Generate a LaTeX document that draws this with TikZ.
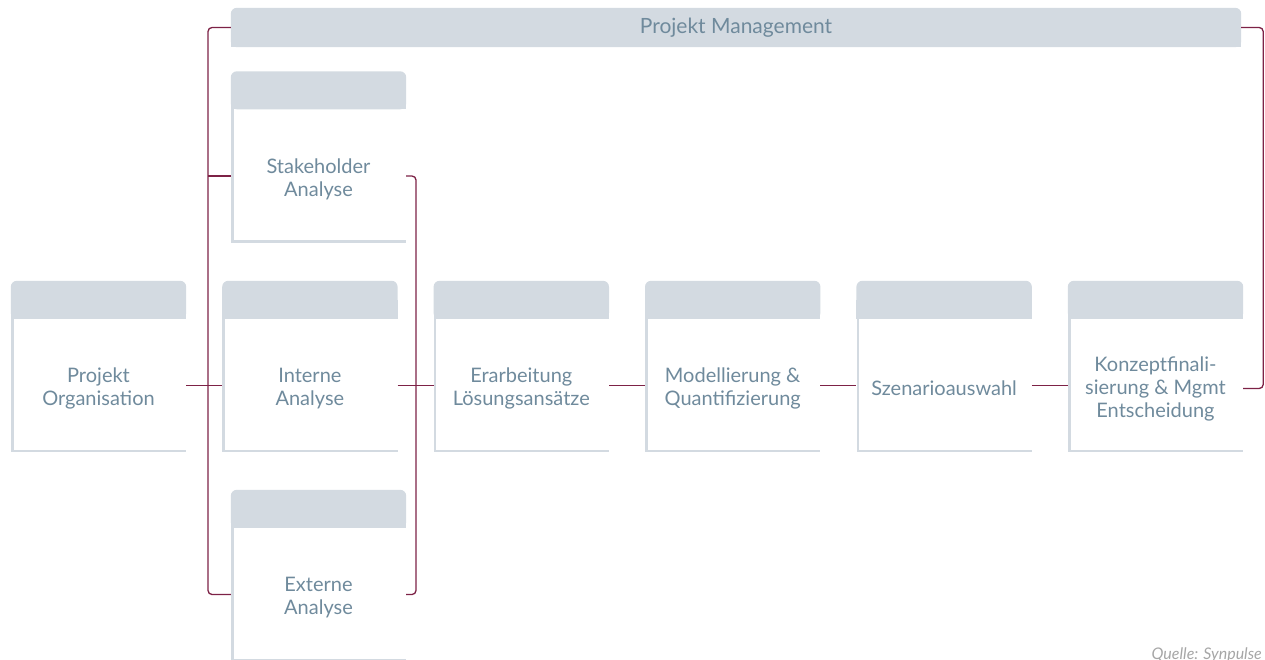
\documentclass[tikz,border=0pt]{standalone}
\usepackage{fontspec}
\setmainfont{Lato}
\usepackage{tikz}
\usetikzlibrary{positioning, calc, backgrounds}
\definecolor{headgray}{HTML}{D3DAE1}
\definecolor{textblue}{HTML}{6F8A9C}
\definecolor{linered}{HTML}{7D2246}
\tikzset{
    cardbody/.style={minimum width=175pt, minimum height=133pt, inner sep=0pt},
    cardtext/.style={inner sep=0pt, align=center, text=textblue,
        font=\fontsize{20}{23}\selectfont},
    cardedge/.style={draw=headgray, line width=2.5pt},
    link/.style={draw=linered, line width=1.3pt, rounded corners=4pt},
}
\newcommand{\card}[3]{%
    \node[cardbody,#2] (#1) {};
    \node[cardtext] (#1-text) at ([yshift=-3pt]#1.center) {#3};
    \begin{scope}[on background layer]
        \fill[headgray, rounded corners=6pt] ($(#1.north west)+(0,-38)$) rectangle (#1.north east);
        \fill[headgray] (#1.north west) rectangle ($(#1.north east)+(0,-19)$);
        \draw[cardedge] ($(#1.north west)+(1.5,0)$) -- ($(#1.south west)+(1.5,-1)$) -- ($(#1.south east)+(0,-1)$);
    \end{scope}
}

\begin{document}
\begin{tikzpicture}[x=1pt, y=-1pt]
\useasboundingbox (0,0) rectangle (1265,659);
% top bar
\node[minimum width=1010pt, minimum height=39pt, inner sep=0pt, text=textblue,
    font=\fontsize{21}{24}\selectfont] (pm) at (736,27.5) {Projekt Management};
\begin{scope}[on background layer]
    \fill[headgray, rounded corners=6pt] (pm.south west) rectangle (pm.north east);
    \fill[headgray] (pm.south west) rectangle ($(pm.east)+(0,-1)$);
\end{scope}
% cards
\card{org}{at={(98.5,385.5)}}{Projekt\\Organisation}
\card{intern}{right=36pt of org}{Interne\\Analyse}
\card{erarb}{right=36pt of intern}{Erarbeitung\\Lösungsansätze}
\card{model}{right=36pt of erarb}{Modellierung \&\\Quantifizierung}
\card{szen}{right=36pt of model}{Szenarioauswahl}
\card{konz}{right=36pt of szen}{Konzeptfinali-\\sierung \& Mgmt\\Entscheidung}
\card{stake}{at={(318.5,176)}}{Stakeholder\\Analyse}
\card{extern}{at={(318.5,594.5)}}{Externe\\Analyse}
\coordinate (lbus) at (208,0);
\coordinate (rbus) at (416,0);
% connectors
\draw[link] (pm.west) -| (lbus |- extern.west) -- (extern.west);
\draw[link] (stake.west) -- (stake.west -| lbus);
\draw[link] (org.east) -- (intern.west);
\draw[link] (stake.east) -| (rbus |- extern.east) -- (extern.east);
\draw[link] (intern.east) -- (erarb.west);
\draw[link] (erarb.east) -- (model.west);
\draw[link] (model.east) -- (szen.west);
\draw[link] (szen.east) -- (konz.west);
\draw[link] ([yshift=-3pt]konz.east) -| ([xshift=22pt]pm.east) -- (pm.east);
% source
\node[anchor=north east, inner sep=0pt, text=black!35, font=\fontsize{16}{18}\selectfont\itshape]
    (src) at (1262,648) {Quelle: Synpulse};
\end{tikzpicture}
\end{document}
